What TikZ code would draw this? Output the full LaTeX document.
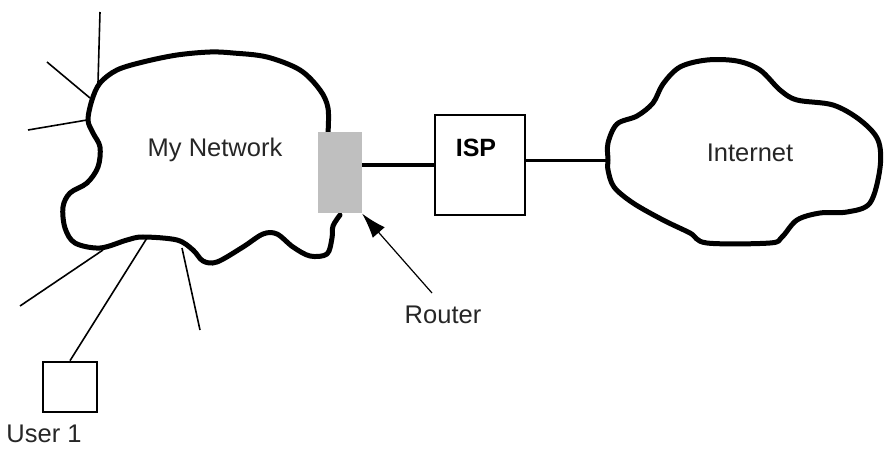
\documentclass[tikz,border=0pt]{standalone}
\usepackage{fontspec}
\setmainfont{Liberation Sans}
\usetikzlibrary{arrows.meta}
\begin{document}
\begin{tikzpicture}[x=1pt,y=-1pt,
  cloudline/.style={line width=5pt, line join=round, line cap=round},
  spoke/.style={line width=1.6pt},
  link/.style={line width=3.5pt},
  lbl/.style={font=\fontsize{25.5}{29}\selectfont, text=black!85, inner sep=0pt},
  boxnode/.style={draw, line width=2.6pt, inner sep=0pt},
]
\fill[white] (0,0) rectangle (884,449);
\useasboundingbox (0,0) rectangle (884,449);

% My Network cloud
\draw[cloudline] plot[smooth, tension=0.55] coordinates {
 (328,133) (328,108) (320,90) (300,70) (267,57) (233,53) (210,52) (177,55)
 (143,62) (117,70) (100,83) (92,100) (88,120) (93,133) (100,147) (98,167)
 (87,183) (70,193) (63,207) (65,228) (75,243) (100,248) (127,240) (143,237)
 (177,240) (193,250) (203,261) (217,262) (243,247) (263,234) (277,234)
 (293,247) (310,256) (327,254) (332,238) (333,226) (340,215)};
\node[lbl] (mynet) at (215,150) {My Network};

% spoke attach points on the cloud
\coordinate (a1) at (98,83);
\coordinate (a2) at (90,98);
\coordinate (a3) at (87,120);
\coordinate (b1) at (103,250);
\coordinate (b2) at (147,238);
\coordinate (b3) at (182,248);
% free ends
\coordinate (e1) at (100,12);
\coordinate (e2) at (47,62);
\coordinate (e3) at (28,130);
\coordinate (f1) at (20,306);
\coordinate (f3) at (200,330);

\draw[spoke] (a1) -- (e1);
\draw[spoke] (a2) -- (e2);
\draw[spoke] (a3) -- (e3);
\draw[spoke] (b1) -- (f1);
\draw[spoke] (b3) -- (f3);

% Router
\node[fill=black!25, minimum width=44pt, minimum height=81pt, inner sep=0pt] (router) at (340,173) {};

% ISP
\node[boxnode, minimum width=90pt, minimum height=100pt] (isp) at (480,165) {};
\node[lbl, font=\fontsize{25}{28}\selectfont\bfseries, text=black] (isplbl) at (476,148) {ISP};

% Internet cloud
\draw[cloudline] plot[smooth cycle, tension=0.55] coordinates {
 (608,160) (608,143) (617,124) (637,116) (653,103) (663,84) (680,67) (707,60)
 (737,61) (760,70) (780,90) (797,100) (833,105) (860,120) (878,140) (880,168)
 (870,203) (847,212) (820,213) (797,220) (782,237) (770,243) (707,243)
 (690,233) (663,220) (633,203) (614,187) (608,170)};
\node[lbl] (inet) at (750,153) {Internet};
\coordinate (inetw) at (608,161);

% links
\draw[link] (router.east |- isp.west) -- (isp.west);
\draw[line width=3pt] ([yshift=4pt]isp.east) -- (inetw);

% Router label and arrow
\node[lbl] (routerlbl) at (443,315) {Router};
\coordinate (arrstart) at (432,293);
\draw[line width=1.2pt, -{Latex[length=25pt, width=16pt]}] (arrstart) -- (router.south east);

% User 1
\node[boxnode, minimum width=54pt, minimum height=50pt] (user) at (70,387) {};
\draw[spoke] (user.north) -- (b2);
\node[lbl] (userlbl) at (44,434) {User 1};
\end{tikzpicture}
\end{document}
